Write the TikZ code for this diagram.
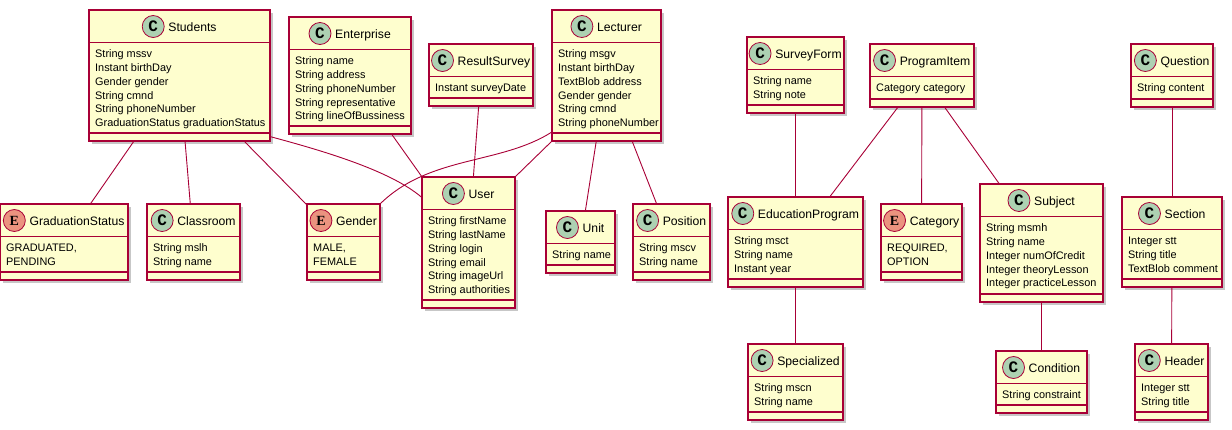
\documentclass[tikz,border=0pt]{standalone}
\usepackage{fontspec}
\setmainfont{Liberation Sans}
\newfontfamily\markfont{Liberation Mono}
\newfontfamily\enumfont{Liberation Serif}
\usetikzlibrary{shadows}

\definecolor{umlred}{HTML}{A80036}
\definecolor{umlfill}{HTML}{FEFECE}
\definecolor{classgreen}{HTML}{ADD1B2}
\definecolor{enumred}{HTML}{EB937F}

\tikzset{
  classbox/.style={draw=umlred, fill=umlfill, line width=1.2pt, inner sep=0pt, outer sep=0pt,
    drop shadow={shadow xshift=3pt, shadow yshift=-3pt, opacity=.22, fill=black}},
  divider/.style={draw=umlred, line width=1.2pt},
  classtitle/.style={inner sep=0pt, text height=9.5pt, text depth=0pt, font=\fontsize{12.2}{14}\selectfont},
  kindmark/.style={circle, draw=umlred, line width=.8pt, minimum size=22pt, inner sep=0pt},
  kindC/.style={kindmark, fill=classgreen, font=\markfont\bfseries\fontsize{16}{16}\selectfont},
  kindE/.style={kindmark, fill=enumred, font=\enumfont\bfseries\fontsize{14}{14}\selectfont},
  members/.style={inner sep=0pt, align=left, anchor=north west, font=\fontsize{10.9}{13.8}\selectfont},
  assoc/.style={draw=umlred, line width=.9pt}
}

% box: name, kind, left, top, right, bottom, title, members
\newcommand{\umlclass}[8]{%
  \node[classbox, minimum width={(#5-#3)*1pt}, minimum height={(#6-#4)*1pt}] (#1) at ({(#3+#5)/2},{(#4+#6)/2}) {};
  \draw[divider] ([yshift=-32.5pt]#1.north west) -- ([yshift=-32.5pt]#1.north east);
  \draw[divider] ([yshift=8pt]#1.south west) -- ([yshift=8pt]#1.south east);
  \node[classtitle] (#1t) at ([yshift=-16.5pt]#1.north) {\hspace{26pt}#7};
  \node[kind#2] (#1c) at ([xshift=11pt]#1t.west) {#2};
  \node[members] (#1m) at ([xshift=6pt,yshift=-38.5pt]#1.north west) {\rule{0pt}{9pt}#8};
}

\begin{document}
\begin{tikzpicture}[x=1pt, y=-1pt]
  \useasboundingbox (0,0) rectangle (1232,429);

  % people side
  \umlclass{stud}{C}{89}{10}{270}{141}{Students}{String mssv\\Instant birthDay\\Gender gender\\String cmnd\\String phoneNumber\\GraduationStatus graduationStatus}
  \umlclass{ent}{C}{289}{17}{411}{134}{Enterprise}{String name\\String address\\String phoneNumber\\String representative\\String lineOfBussiness}
  \umlclass{rsur}{C}{429}{44}{533}{106}{ResultSurvey}{Instant surveyDate}
  \umlclass{lect}{C}{552}{10}{661}{141}{Lecturer}{String msgv\\Instant birthDay\\TextBlob address\\Gender gender\\String cmnd\\String phoneNumber}
  \umlclass{user}{C}{422}{177}{515}{308}{User}{String firstName\\String lastName\\String login\\String email\\String imageUrl\\String authorities}
  \umlclass{unit}{C}{546}{211}{615}{273}{Unit}{String name}
  \umlclass{pos}{C}{633}{204}{710}{280}{Position}{String mscv\\String name}
  \umlclass{grad}{E}{0}{204}{128}{280}{GraduationStatus}{GRADUATED,\\PENDING}
  \umlclass{room}{C}{147}{204}{240}{280}{Classroom}{String mslh\\String name}
  \umlclass{gend}{E}{307}{204}{380}{280}{Gender}{MALE,\\FEMALE}

  % program side
  \umlclass{sform}{C}{747}{37}{844}{113}{SurveyForm}{String name\\String note}
  \umlclass{pitem}{C}{870}{44}{974}{107}{ProgramItem}{Category category}
  \umlclass{quest}{C}{1131}{44}{1213}{107}{Question}{String content}
  \umlclass{eprog}{C}{728}{197}{863}{287}{EducationProgram}{String msct\\String name\\Instant year}
  \umlclass{cat}{E}{881}{204}{962}{280}{Category}{REQUIRED,\\OPTION}
  \umlclass{subj}{C}{980}{184}{1103}{302}{Subject}{String msmh\\String name\\Integer numOfCredit\\Integer theoryLesson\\Integer practiceLesson}
  \umlclass{sect}{C}{1122}{197}{1222}{287}{Section}{Integer stt\\String title\\TextBlob comment}
  \umlclass{spec}{C}{748}{344}{843}{420}{Specialized}{String mscn\\String name}
  \umlclass{cond}{C}{996}{351}{1087}{413}{Condition}{String constraint}
  \umlclass{head}{C}{1135}{344}{1208}{420}{Header}{Integer stt\\String title}

  % links
  \draw[assoc] (stud) -- (grad);
  \draw[assoc] (stud) -- (room);
  \draw[assoc] (stud) -- (gend);
  \draw[assoc] (stud.-34) .. controls (320,150) and (390,170) .. (user.136);
  \draw[assoc] (ent) -- (user);
  \draw[assoc] (rsur) -- (user);
  \draw[assoc] (lect.226) .. controls (500,165) and (430,155) .. (gend.north east);
  \draw[assoc] (lect.south west) -- (user.north east);
  \draw[assoc] (lect) -- (unit);
  \draw[assoc] (lect) -- (pos);
  \draw[assoc] (sform) -- (eprog);
  \draw[assoc] (pitem) -- (eprog);
  \draw[assoc] (pitem) -- (cat);
  \draw[assoc] (pitem) -- (subj);
  \draw[assoc] (quest) -- (sect);
  \draw[assoc] (eprog) -- (spec);
  \draw[assoc] (subj) -- (cond);
  \draw[assoc] (sect) -- (head);
\end{tikzpicture}
\end{document}
